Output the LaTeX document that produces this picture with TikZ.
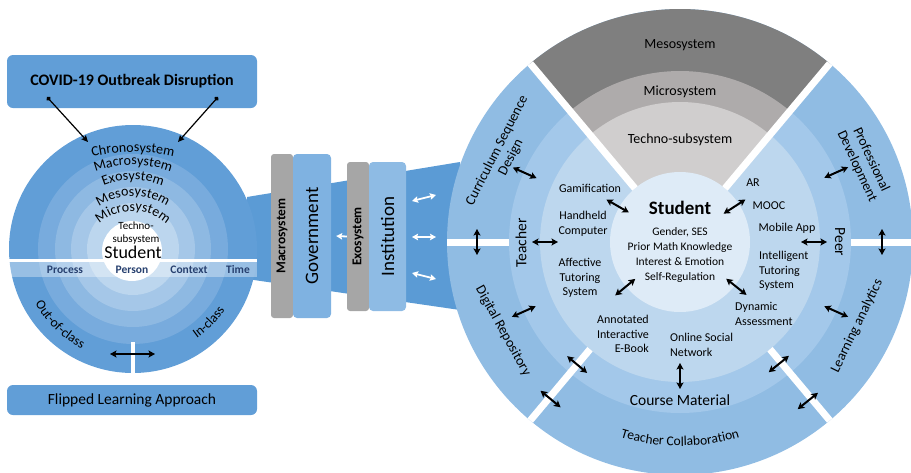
\documentclass[tikz,border=0pt]{standalone}
\usepackage{fontspec}
\setmainfont{Carlito}
\usetikzlibrary{arrows.meta,calc,decorations.text}

\definecolor{ringA}{HTML}{619ED7}
\definecolor{ringB}{HTML}{78ABDD}
\definecolor{ringC}{HTML}{8EB9E2}
\definecolor{ringD}{HTML}{A5C7E8}
\definecolor{ringE}{HTML}{BCD6EE}
\definecolor{funnelblue}{HTML}{5B9BD5}
\definecolor{outerblue}{HTML}{90BCE3}
\definecolor{midblue}{HTML}{A3C8EA}
\definecolor{innerblue}{HTML}{BDD7EE}
\definecolor{coreblue}{HTML}{DEEBF7}
\definecolor{gdark}{HTML}{7F7F7F}
\definecolor{gmid}{HTML}{AEABAB}
\definecolor{glight}{HTML}{D0CECE}
\definecolor{boxgray}{HTML}{A6A6A6}
\definecolor{govblue}{HTML}{7FB2E1}
\definecolor{instblue}{HTML}{8EBBE4}
\definecolor{navytext}{HTML}{27406F}

\newcommand{\fsz}[2]{\fontsize{#1}{#2}\selectfont}
\newcommand{\arcfont}{\fontsize{14}{14}\selectfont}
\newcommand{\tcfont}{\fontsize{13.5}{13.5}\selectfont}

\tikzset{
  dbl/.style={line width=2pt, {Stealth[length=6.5pt,width=7pt,inset=1.5pt]}-{Stealth[length=6.5pt,width=7pt,inset=1.5pt]}},
  wdbl/.style={white, line width=1.8pt, {Stealth[length=6pt,width=6.5pt,inset=1pt]}-{Stealth[length=6pt,width=6.5pt,inset=1pt]}},
  dotarr/.style={line width=1.2pt, {Circle[length=4.5pt]}-{Stealth[length=6.5pt,width=6pt,inset=1pt]}},
  fbox/.style={fill=ringA, rounded corners=6pt, inner sep=0pt, minimum width=250},
  gbox/.style={fill=boxgray, rounded corners=3pt, inner sep=0pt, font=\bfseries\fsz{13.5}{16}},
  lbl/.style={font=\fsz{12}{14.6}, align=center, inner sep=0pt},
  ringlbl/.style={font=\fsz{14}{15.5}, align=center, inner sep=0pt},
  glbl/.style={font=\fsz{14}{16}, inner sep=0pt},
  navy/.style={font=\bfseries\fsz{11.5}{13}, text=navytext, inner sep=0pt},
  curved/.style={decorate, decoration={text along path, text align=center, text={#1}}}
}

\begin{document}
\begin{tikzpicture}[x=1pt,y=1pt]
        \useasboundingbox (0,0) rectangle (911,-472);
        \coordinate (L) at (133,-249);
        \coordinate (R) at (680,-242);

        % Funnel between the circles
        \fill[funnelblue] (247,-197) -- (460,-162) -- (460,-310) -- (247,-279) -- cycle;

        % Left circle
        \foreach \r/\c in {124/ringA,95/ringB,78/ringC,62/ringD,46/ringE}
            \fill[\c] (L) circle[radius=\r];
        \fill[white] (132,-251) circle[radius=30];
        \draw[white, line width=4pt] ([yshift=-93]L) -- ([yshift=-126]L);
        \fill[white, opacity=0.35] (8,-262) rectangle (257,-277);
        \draw[white, line width=3pt] (8,-260.5) -- (257,-260.5);

        % Curved system names
        \path[curved={|\arcfont|Chronosystem}] ([shift={(110:179)}]133,-331) arc[start angle=110, end angle=70, radius=179];
        \path[curved={|\arcfont|Macrosystem}] ([shift={(125:108)}]133,-273) arc[start angle=125, end angle=55, radius=108];
        \path[curved={|\arcfont|Exosystem}] ([shift={(140:78)}]133,-258) arc[start angle=140, end angle=40, radius=78];
        \path[curved={|\arcfont|Mesosystem}] ([shift={(150:61)}]133,-257) arc[start angle=150, end angle=30, radius=61];
        \path[curved={|\arcfont|Microsystem}] ([shift={(160:50)}]133,-261) arc[start angle=160, end angle=20, radius=50];
        \path[curved={|\tcfont|Out-of-class}] ([shift={(196:112)}]L) arc[start angle=196, end angle=256, radius=112];
        \path[curved={|\tcfont|In-class}] ([shift={(286:110)}]L) arc[start angle=286, end angle=346, radius=110];

        \node[font=\fsz{11}{12.5}, align=center, inner sep=0pt] (techno) at (136,-233) {Techno-\\subsystem};
        \node[font=\fsz{18}{20}, inner sep=0pt] (lstudent) at (133,-252) {Student};
        \node[navy] (process) at (65,-270) {Process};
        \node[navy] (person) at (132,-270) {Person};
        \node[navy] (context) at (189,-270) {Context};
        \node[navy] (time) at (238,-270) {Time};

        \coordinate (outc) at (110,-354);
        \coordinate (inc) at (155,-354);
        \draw[dbl] (outc) -- (inc);

        % Boxes above and below
        \node[fbox, minimum height=53, font=\bfseries\fsz{16}{19}] (covid) at (132,-81.5) {COVID-19 Outbreak Disruption};
        \node[fbox, minimum height=30, font=\fsz{15.5}{18}] (flipped) at (132,-400) {Flipped Learning Approach};
        \coordinate (dot1) at (47,-97);
        \coordinate (dot2) at (218,-97);
        \coordinate (chr1) at (88,-142);
        \coordinate (chr2) at (178,-142);
        \draw[dotarr] (dot1) -- (chr1);
        \draw[dotarr] (dot2) -- (chr2);

        % Government and institution
        \node[gbox, rotate=90, minimum width=164, minimum height=22] (macro) at (282,-236) {Macrosystem};
        \node[fill=govblue, rounded corners=4pt, inner sep=0pt, rotate=90, minimum width=164, minimum height=38, font=\fsz{19}{22}] (gov) at (312,-236) {Government};
        \node[gbox, rotate=90, minimum width=149, minimum height=22] (exo) at (358,-236.5) {Exosystem};
        \node[fill=instblue, rounded corners=4pt, inner sep=0pt, rotate=90, minimum width=149, minimum height=37, font=\fsz{19}{22}] (inst) at (387.5,-236.5) {Institution};
        \draw[white, line width=1.8pt, -{Stealth[length=6pt,width=6.5pt,inset=1pt]}] (exo.north) -- ([xshift=5]gov.south);
        \foreach \ya/\yb [count=\i] in {201/195,237/237,273/279}{
            \coordinate (ia\i) at (412,-\ya);
            \coordinate (ib\i) at (436,-\yb);
            \draw[wdbl] (ia\i) -- (ib\i);
        }

        % Right circle
        \fill[outerblue] (R) circle[radius=233];
        \fill[midblue] (R) circle[radius=171];
        \fill[innerblue] (R) circle[radius=140];
        \fill[gdark] (R) -- ++(50:233) arc[start angle=50, end angle=130, radius=233] -- cycle;
        \fill[gmid] (R) -- ++(50:171) arc[start angle=50, end angle=130, radius=171] -- cycle;
        \fill[glight] (R) -- ++(50:140) arc[start angle=50, end angle=130, radius=140] -- cycle;
        \fill[coreblue] (R) circle[radius=70];
        \foreach \a/\r in {50/70,130/70,230/140,310/140,0/171,180/171}
            \draw[white, line width=7pt] ($(R)+(\a:\r)$) -- ($(R)+(\a:233)$);

        % Labels in the gray wedge
        \node[glbl] (meso) at (680,-45) {Mesosystem};
        \node[glbl] (micro) at (680,-92) {Microsystem};
        \node[glbl] (technor) at (680,-140) {Techno-subsystem};

        % Student and tools
        \node[font=\bfseries\fsz{19}{22}, inner sep=0pt] (student) at (680,-208) {Student};
        \node[lbl, font=\fsz{11.5}{14.7}] (traits) at (680,-255) {Gender, SES\\Prior Math Knowledge\\Interest \& Emotion\\Self-Regulation};
        \node[lbl] (gami) at (590,-188) {Gamification};
        \node[lbl] (hand) at (583,-224) {Handheld\\Computer};
        \node[lbl] (affect) at (580,-278) {Affective\\Tutoring\\System};
        \node[lbl] (ar) at (753,-183) {AR};
        \node[lbl] (mooc) at (769,-206) {MOOC};
        \node[lbl] (mobile) at (787,-228) {Mobile App};
        \node[lbl, anchor=west, align=left] (its) at (759,-271) {Intelligent\\Tutoring\\System};
        \node[lbl, anchor=west, align=left] (dynamic) at (735,-314) {Dynamic\\Assessment};
        \node[lbl, anchor=east, align=right] (ebook) at (649,-334) {Annotated\\Interactive\\E-Book};
        \node[lbl, anchor=west, align=left] (social) at (670,-345) {Online Social\\Network};

        % Teacher, peer and course material
        \node[font=\fsz{15.5}{18}, inner sep=0pt] (course) at (680,-400) {Course Material};
        \node[font=\fsz{15.5}{18}, inner sep=0pt, rotate=90] (teacher) at (521,-243) {Teacher};
        \node[font=\fsz{15.5}{18}, inner sep=0pt, rotate=-90] (peer) at (840,-242) {Peer};

        % Outer ring
        \node[ringlbl, rotate=63] (curric) at (504,-154) {Curriculum Sequence\\Design};
        \node[ringlbl, rotate=-65] (profdev) at (864,-163) {Professional\\Development};
        \node[ringlbl, rotate=-61] (digrep) at (503,-331) {Digital Repository};
        \node[ringlbl, rotate=64] (analytics) at (857,-326) {Learning analytics};
        \path[curved={|\tcfont|Teacher Collaboration}] ([shift={(245:204)}]R) arc[start angle=245, end angle=295, radius=204];

        % Radial arrows
        \foreach \a/\r [count=\i] in {156/170,180/135,150/72,33/65,219.5/71,321.5/72,0/134,24/171,204/171,270/134,336/171}{
            \coordinate (ra\i) at ($(R)+({\a}:{\r-13})$);
            \coordinate (rb\i) at ($(R)+({\a}:{\r+13})$);
            \draw[dbl] (ra\i) -- (rb\i);
        }
        % Arrows across the white gaps
        \foreach \a/\r [count=\i] in {180/203,0/202,230/160,230.5/203.5,309/157,308.8/204}{
            \coordinate (ta\i) at ($(R)+({\a}:{\r})+({\a+90}:13)$);
            \coordinate (tb\i) at ($(R)+({\a}:{\r})+({\a-90}:13)$);
            \draw[dbl] (ta\i) -- (tb\i);
        }
\end{tikzpicture}
\end{document}
